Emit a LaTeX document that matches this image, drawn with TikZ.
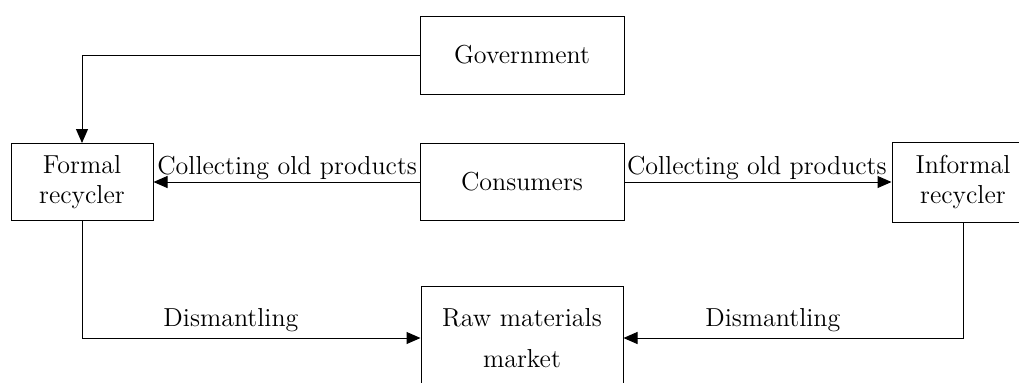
\documentclass[tikz,border=0pt]{standalone}
\usetikzlibrary{arrows.meta,positioning}
\tikzset{
  box/.style={draw, line width=0.5pt, align=center, inner sep=0pt,
    font=\fontsize{13}{15}\selectfont},
  flow/.style={line width=0.5pt, -{Triangle[length=7pt,width=6pt]}},
  lbl/.style={font=\fontsize{13}{15}\selectfont, inner sep=1pt},
}
\begin{document}
\begin{tikzpicture}[x=0.5pt,y=-0.5pt]
  \useasboundingbox (0,0) rectangle (1019,382);
  \clip (0,0) rectangle (1019,382);
  % boxes
  \node[box, minimum width=102pt, minimum height=39pt] (gov) at (522,55) {Government};
  \node[box, minimum width=71pt, minimum height=38.5pt] (formal) at (82,182) {Formal\\recycler};
  \node[box, minimum width=102pt, minimum height=38.5pt] (cons) at (522,182) {Consumers};
  \node[box, minimum width=71pt, minimum height=40pt] (informal) at (963,182) {Informal\\recycler};
  \node[box, minimum width=101pt, minimum height=52pt,
    font=\fontsize{13}{20.5}\selectfont] (raw) at (522,338) {Raw materials\\market};
  % flows
  \draw[flow] (gov.west) -| (formal.north);
  \draw[flow] (cons.west) -- (formal.east)
    node[lbl, pos=0, anchor=south east] {Collecting old products};
  \draw[flow] (cons.east) -- (informal.west)
    node[lbl, pos=0, anchor=south west] {Collecting old products};
  \draw[flow] (formal.south) |- (raw.west)
    node[lbl, pos=0.72, above=2pt] {Dismantling};
  \draw[flow] (informal.south) |- (raw.east)
    node[lbl, pos=0.78, above=2pt] {Dismantling};
\end{tikzpicture}
\end{document}
